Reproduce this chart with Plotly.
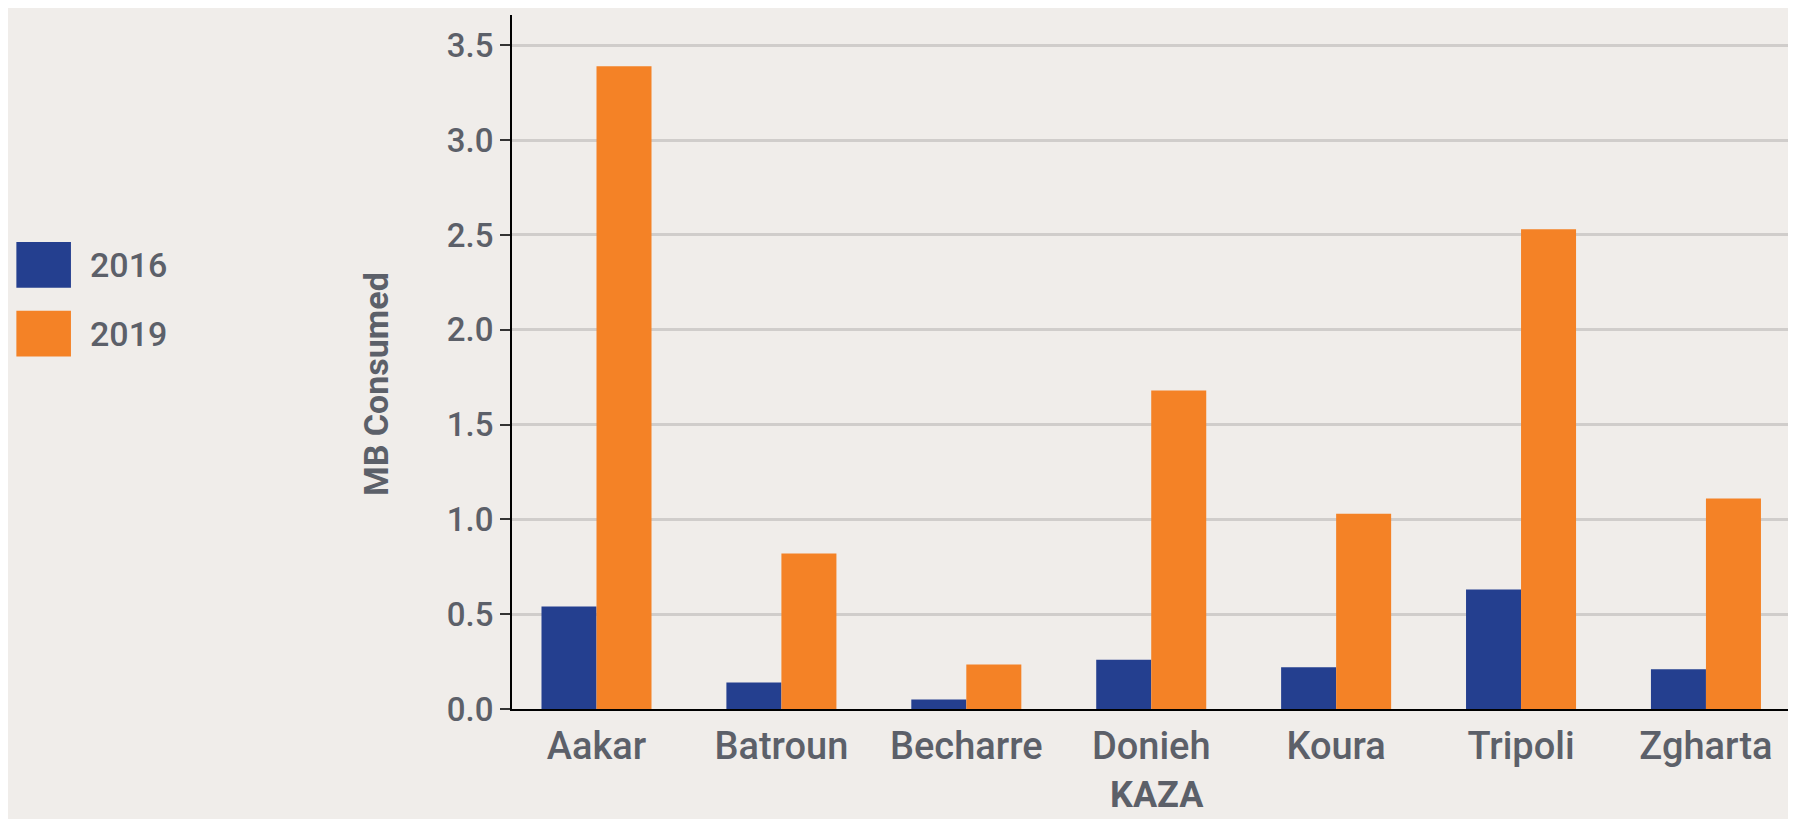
import plotly.graph_objects as go

# MB consumed per kaza
kaza = ["Aakar", "Batroun", "Becharre", "Donieh", "Koura", "Tripoli", "Zgharta"]
mb_2016 = [0.54, 0.14, 0.05, 0.26, 0.22, 0.63, 0.21]
mb_2019 = [3.39, 0.82, 0.235, 1.68, 1.03, 2.53, 1.11]
years = ["2016", "2019"]

BLUE = "#243F8F"
ORANGE = "#F48226"
BG = "#F0EDEA"
TXT = "#5C6069"

fig = go.Figure()
fig.add_trace(go.Bar(x=kaza, y=mb_2016, name=years[0], marker_color=BLUE, marker_line_width=0))
fig.add_trace(go.Bar(x=kaza, y=mb_2019, name=years[1], marker_color=ORANGE, marker_line_width=0))

# the page body has an 8px margin, so the figure is a bit smaller than the window
fig.update_layout(
    width=1788, height=811,
    margin=dict(l=504, r=0, t=7, b=110),
    paper_bgcolor=BG, plot_bgcolor=BG,
    barmode="group", bargap=0.405, bargroupgap=0,
    showlegend=False,
    font=dict(family="Roboto, Liberation Sans, sans-serif", color=TXT),
)
fig.update_xaxes(
    type="category", range=[-0.457, 6.487],
    showline=True, linecolor="black", linewidth=2,
    showgrid=False, ticks="", tickfont=dict(size=38, color=TXT, weight=500),
    ticklabelstandoff=2,
)
fig.update_yaxes(
    range=[0, 3.66], dtick=0.5, tickformat=".1f",
    showline=True, linecolor="black", linewidth=2,
    ticks="outside", ticklen=10, tickwidth=2, tickcolor="#333333",
    showgrid=True, gridcolor="#D0CDCB", gridwidth=3, zeroline=False,
    tickfont=dict(size=33, color=TXT, weight=500), ticklabelstandoff=0,
)

# axis titles
fig.add_annotation(text="<b>MB Consumed</b>", xref="paper", yref="paper", x=-0.106, y=0.468,
                   textangle=-90, showarrow=False, font=dict(size=34, color=TXT),
                   xanchor="center", yanchor="middle")
fig.add_annotation(text="<b>KAZA</b>", xref="paper", yref="paper", x=0.502, y=-0.157,
                   showarrow=False, font=dict(size=36, color=TXT),
                   xanchor="center", yanchor="bottom")

# legend drawn by hand so the swatches can be large
for i, (name, col) in enumerate(zip(years, [BLUE, ORANGE])):
    y_top = 0.673 - i * 0.099
    fig.add_shape(type="rect", xref="paper", yref="paper", x0=-0.386, x1=-0.3435,
                  y0=y_top - 0.066, y1=y_top, fillcolor=col, line_width=0)
    fig.add_annotation(text=name, xref="paper", yref="paper", x=-0.330, y=y_top - 0.033,
                       xanchor="left", yanchor="middle", showarrow=False,
                       font=dict(size=34, color=TXT, weight=500))

fig.write_html("out.html")
